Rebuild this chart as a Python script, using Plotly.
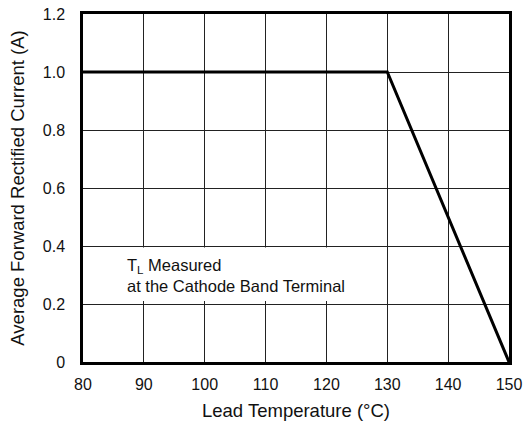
import plotly.graph_objects as go

temp_c = [80, 130, 150]
current_a = [1.0, 1.0, 0.0]

x_ticks = [80, 90, 100, 110, 120, 130, 140, 150]
y_ticks = [0, 0.2, 0.4, 0.6, 0.8, 1.0, 1.2]
y_tick_text = ["0", "0.2", "0.4", "0.6", "0.8", "1.0", "1.2"]

font_family = "Liberation Sans, Arial, sans-serif"
txt = "#111111"

fig = go.Figure()
fig.add_trace(go.Scatter(x=temp_c, y=current_a, mode="lines",
                         line=dict(color="black", width=3), showlegend=False,
                         cliponaxis=False))

fig.add_shape(type="rect", xref="x", yref="y", x0=80, x1=128.8, y0=0.21, y1=0.395,
              fillcolor="white", line=dict(width=0), layer="between")

fig.add_annotation(x=86.9, y=0.30, xref="x", yref="y", xanchor="left", yanchor="middle",
                   align="left", showarrow=False,
                   text="T<sub>L</sub> Measured<br>at the Cathode Band Terminal",
                   font=dict(family=font_family, size=16.5, color=txt))

axis_common = dict(showline=True, linecolor="black", linewidth=2.5, mirror=True,
                   showgrid=True, gridcolor="#222222", gridwidth=1, zeroline=False,
                   ticks="", automargin=False,
                   tickfont=dict(family=font_family, size=16, color=txt))

fig.update_xaxes(range=[80, 150], tickvals=x_ticks, ticklabelstandoff=6,
                 title=dict(text="Lead Temperature (°C)", font=dict(family=font_family, size=18.5, color=txt), standoff=14),
                 **axis_common)
fig.update_yaxes(range=[0, 1.2], tickvals=y_ticks, ticktext=y_tick_text, ticklabelstandoff=12,
                 title=dict(text="Average Forward Rectified Current (A)", font=dict(family=font_family, size=18.5, color=txt), standoff=14),
                 **axis_common)

fig.update_layout(width=525, height=421, margin=dict(l=83, r=16, t=14, b=59),
                  plot_bgcolor="white", paper_bgcolor="white",
                  font=dict(family=font_family))

fig.write_html("out.html")
